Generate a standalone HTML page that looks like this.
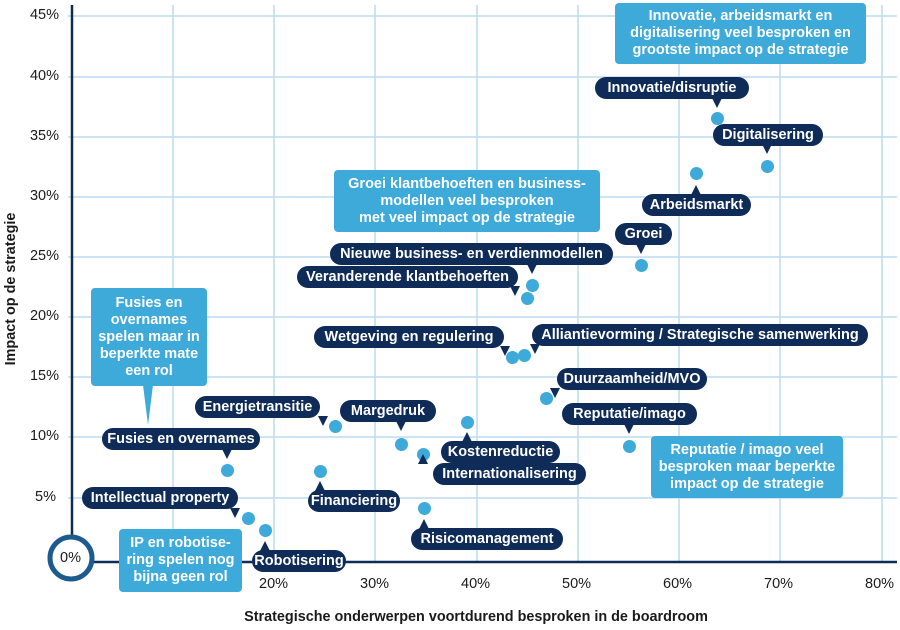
<!DOCTYPE html>
<html><head><meta charset="utf-8"><style>
*{margin:0;padding:0;box-sizing:border-box}
body{width:900px;height:630px;background:#fff;position:relative;overflow:hidden;font-family:"Liberation Sans",Arial,sans-serif}
.p{position:absolute;background:#0f2b57;color:#fff;font-weight:bold;font-size:14.5px;height:22px;line-height:22px;border-radius:11px;text-align:center;white-space:nowrap}
.b{position:absolute;background:#3eaad9;color:#fff;font-weight:bold;font-size:14.5px;line-height:17px;border-radius:4px;text-align:center;display:flex;align-items:center;justify-content:center;white-space:nowrap}
.d{position:absolute;width:13px;height:13px;border-radius:50%;background:#3eaad9}
.td{position:absolute;width:0;height:0;border-left:5px solid transparent;border-right:5px solid transparent;border-top:10px solid #0f2b57}
.tu{position:absolute;width:0;height:0;border-left:5px solid transparent;border-right:5px solid transparent;border-bottom:10px solid #0f2b57}
.t{position:absolute;font-size:14.5px;color:#1a1a1a}
.y{position:absolute;left:0;width:59px;text-align:right;font-size:14.5px;color:#1a1a1a}
</style></head><body>
<svg width="900" height="630" style="position:absolute;left:0;top:0">
<g stroke="#bcdcef" stroke-width="1.5">
<line x1="68" y1="16" x2="897" y2="16"/><line x1="68" y1="77" x2="897" y2="77"/><line x1="68" y1="137" x2="897" y2="137"/><line x1="68" y1="197" x2="897" y2="197"/><line x1="68" y1="257" x2="897" y2="257"/><line x1="68" y1="317" x2="897" y2="317"/><line x1="68" y1="377" x2="897" y2="377"/><line x1="68" y1="437" x2="897" y2="437"/><line x1="68" y1="498" x2="897" y2="498"/>
<line x1="173" y1="5" x2="173" y2="562"/><line x1="274" y1="5" x2="274" y2="562"/><line x1="375" y1="5" x2="375" y2="562"/><line x1="477" y1="5" x2="477" y2="562"/><line x1="578" y1="5" x2="578" y2="562"/><line x1="679" y1="5" x2="679" y2="562"/><line x1="780" y1="5" x2="780" y2="562"/><line x1="882" y1="5" x2="882" y2="562"/>
</g>
<line x1="72" y1="5" x2="72" y2="536" stroke="#0f2b57" stroke-width="2.5"/>
<line x1="94" y1="562" x2="897" y2="562" stroke="#0f2b57" stroke-width="2.5"/>
<circle cx="71" cy="558" r="21" fill="#fff" stroke="#1d5a8e" stroke-width="5"/>
</svg>
<div class="t" style="left:60px;top:550px">0%</div>
<div class="y" style="top:7px">45%</div>
<div class="y" style="top:68px">40%</div>
<div class="y" style="top:128px">35%</div>
<div class="y" style="top:188px">30%</div>
<div class="y" style="top:248px">25%</div>
<div class="y" style="top:308px">20%</div>
<div class="y" style="top:368px">15%</div>
<div class="y" style="top:428px">10%</div>
<div class="y" style="top:489px;width:56px">5%</div>
<div class="t" style="left:259px;top:576px">20%</div>
<div class="t" style="left:360px;top:576px">30%</div>
<div class="t" style="left:461px;top:576px">40%</div>
<div class="t" style="left:562px;top:576px">50%</div>
<div class="t" style="left:663px;top:576px">60%</div>
<div class="t" style="left:764px;top:576px">70%</div>
<div class="t" style="left:865px;top:576px">80%</div>
<div style="position:absolute;left:0;top:609px;width:952px;text-align:center;font-weight:bold;font-size:14.4px;color:#1a1a1a">Strategische onderwerpen voortdurend besproken in de boardroom</div>
<div style="position:absolute;left:-89px;top:281px;width:200px;text-align:center;font-weight:bold;font-size:14.4px;color:#1a1a1a;transform:rotate(-90deg)">Impact op de strategie</div>

<!-- blue boxes -->
<div class="b" style="left:615px;top:3px;width:251px;height:61px">Innovatie, arbeidsmarkt en<br>digitalisering veel besproken en<br>grootste impact op de strategie</div>
<div class="b" style="left:334px;top:170px;width:266px;height:62px">Groei klantbehoeften en business-<br>modellen veel besproken<br>met veel impact op de strategie</div>
<div class="b" style="left:91px;top:288px;width:116px;height:98px">Fusies en<br>overnames<br>spelen maar in<br>beperkte mate<br>een rol</div>
<div style="position:absolute;left:143px;top:385px;width:0;height:0;border-left:5px solid transparent;border-right:5px solid transparent;border-top:40px solid #3eaad9"></div>
<div class="b" style="left:119px;top:529px;width:123px;height:63px">IP en robotise-<br>ring spelen nog<br>bijna geen rol</div>
<div class="b" style="left:651px;top:436px;width:192px;height:62px">Reputatie / imago veel<br>besproken maar beperkte<br>impact op de strategie</div>

<!-- dots -->
<div class="d" style="left:711px;top:112px"></div>
<div class="d" style="left:761px;top:160px"></div>
<div class="d" style="left:690px;top:167px"></div>
<div class="d" style="left:635px;top:259px"></div>
<div class="d" style="left:526px;top:279px"></div>
<div class="d" style="left:521px;top:292px"></div>
<div class="d" style="left:506px;top:351px"></div>
<div class="d" style="left:518px;top:349px"></div>
<div class="d" style="left:540px;top:392px"></div>
<div class="d" style="left:623px;top:440px"></div>
<div class="d" style="left:461px;top:416px"></div>
<div class="d" style="left:395px;top:438px"></div>
<div class="d" style="left:329px;top:420px"></div>
<div class="d" style="left:417px;top:448px"></div>
<div class="d" style="left:221px;top:464px"></div>
<div class="d" style="left:314px;top:465px"></div>
<div class="d" style="left:418px;top:502px"></div>
<div class="d" style="left:242px;top:512px"></div>
<div class="d" style="left:259px;top:524px"></div>

<!-- pointers -->
<div class="td" style="left:712px;top:98px"></div>
<div class="td" style="left:762px;top:144px"></div>
<div class="tu" style="left:691px;top:185px"></div>
<div class="td" style="left:636px;top:244px"></div>
<div class="td" style="left:527px;top:264px"></div>
<div class="td" style="left:510px;top:286px"></div>
<div class="td" style="left:500px;top:346px"></div>
<div class="td" style="left:530px;top:344px"></div>
<div class="td" style="left:550px;top:388px"></div>
<div class="td" style="left:624px;top:424px"></div>
<div class="tu" style="left:462px;top:432px"></div>
<div class="td" style="left:396px;top:421px"></div>
<div class="td" style="left:318px;top:416px"></div>
<div class="tu" style="left:418px;top:454px"></div>
<div class="td" style="left:222px;top:449px"></div>
<div class="tu" style="left:315px;top:481px"></div>
<div class="tu" style="left:419px;top:519px"></div>
<div class="td" style="left:230px;top:508px"></div>
<div class="tu" style="left:260px;top:541px"></div>

<!-- pills -->
<div class="p" style="left:595px;top:77px;width:154px">Innovatie/disruptie</div>
<div class="p" style="left:713px;top:124px;width:110px">Digitalisering</div>
<div class="p" style="left:642px;top:194px;width:109px">Arbeidsmarkt</div>
<div class="p" style="left:615px;top:223px;width:57px">Groei</div>
<div class="p" style="left:330px;top:243px;width:283px">Nieuwe business- en verdienmodellen</div>
<div class="p" style="left:297px;top:266px;width:221px">Veranderende klantbehoeften</div>
<div class="p" style="left:314px;top:326px;width:190px">Wetgeving en regulering</div>
<div class="p" style="left:532px;top:324px;width:336px">Alliantievorming / Strategische samenwerking</div>
<div class="p" style="left:557px;top:368px;width:150px">Duurzaamheid/MVO</div>
<div class="p" style="left:562px;top:403px;width:135px">Reputatie/imago</div>
<div class="p" style="left:441px;top:441px;width:119px">Kostenreductie</div>
<div class="p" style="left:433px;top:463px;width:153px">Internationalisering</div>
<div class="p" style="left:340px;top:400px;width:96px">Margedruk</div>
<div class="p" style="left:195px;top:396px;width:125px">Energietransitie</div>
<div class="p" style="left:102px;top:428px;width:158px">Fusies en overnames</div>
<div class="p" style="left:82px;top:487px;width:156px">Intellectual property</div>
<div class="p" style="left:308px;top:490px;width:92px">Financiering</div>
<div class="p" style="left:411px;top:528px;width:152px">Risicomanagement</div>
<div class="p" style="left:252px;top:550px;width:94px">Robotisering</div>
</body></html>
